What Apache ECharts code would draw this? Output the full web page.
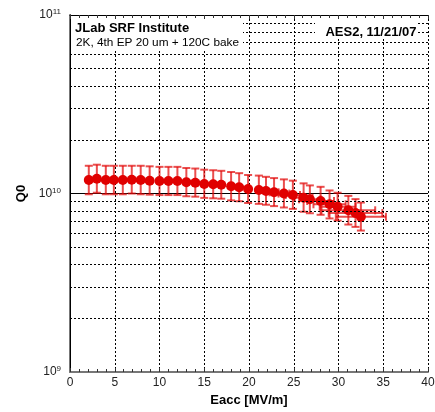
<!DOCTYPE html>
<html>
<head>
<meta charset="utf-8">
<script src="https://cdn.jsdelivr.net/npm/echarts@6/dist/echarts.min.js"></script>
<style>
html,body{margin:0;padding:0;background:#fff;}
#c{width:435px;height:412px;}
</style>
</head>
<body>
<div id="c"></div>
<script>
// ---- data ----
const eacc = [2.1,3.0,4.0,4.9,5.9,6.9,7.9,8.9,10.0,11.0,12.0,13.0,14.0,15.0,16.0,16.9,18.0,18.9,19.9,21.1,21.9,22.8,23.9,24.9,26.1,26.8,28.0,29.0,29.9,31.1,31.9,32.5];
const q0 = [1.19e10,1.21e10,1.19e10,1.19e10,1.19e10,1.195e10,1.19e10,1.18e10,1.175e10,1.175e10,1.175e10,1.155e10,1.15e10,1.13e10,1.126e10,1.12e10,1.097e10,1.083e10,1.06e10,1.046e10,1.033e10,1.016e10,0.999e10,0.981e10,0.947e10,0.928e10,0.908e10,0.87e10,0.844e10,0.805e10,0.778e10,0.741e10];
const q0Hi = [1.43e10,1.45e10,1.43e10,1.43e10,1.43e10,1.43e10,1.43e10,1.42e10,1.41e10,1.41e10,1.41e10,1.39e10,1.38e10,1.36e10,1.35e10,1.34e10,1.32e10,1.30e10,1.27e10,1.26e10,1.24e10,1.22e10,1.20e10,1.18e10,1.14e10,1.11e10,1.09e10,1.04e10,1.01e10,0.97e10,0.93e10,0.89e10];
const q0Lo = [0.99e10,1.01e10,0.99e10,0.99e10,0.99e10,1.00e10,0.99e10,0.985e10,0.98e10,0.98e10,0.98e10,0.965e10,0.96e10,0.945e10,0.94e10,0.935e10,0.915e10,0.905e10,0.885e10,0.875e10,0.865e10,0.85e10,0.835e10,0.82e10,0.79e10,0.775e10,0.76e10,0.725e10,0.705e10,0.67e10,0.65e10,0.62e10];
const eaccErr = [0,0,0,0,0,0,0,0,0,0,0,0,0,0,0,0,0,0,0,0,0,0.5,0.6,0.8,1.0,1.2,1.5,1.8,2.0,3.0,3.0,2.8];
const xTicks = [0,5,10,15,20,25,30,35,40];
const yDecades = [1e9,1e10,1e11];
const yMinorGrid = [2e9,3e9,4e9,5e9,6e9,7e9,8e9,9e9,2e10,3e10,4e10,5e10,6e10,7e10,8e10,9e10];
const titleText = 'JLab SRF Institute';
const subText = '2K, 4th EP 20 um + 120C bake';
const tagText = 'AES2, 11/21/07';
const xName = 'Eacc [MV/m]';
const yName = 'Q0';

const FONT = '"Liberation Sans", Arial, sans-serif';
const errData = eacc.map((x,i)=>[x, q0[i], q0Lo[i], q0Hi[i], x-eaccErr[i], x+eaccErr[i]]);
const ptData = eacc.map((x,i)=>[x, q0[i]]);

function renderErr(params, api){
  const x = api.value(0), y = api.value(1), lo = api.value(2), hi = api.value(3), xl = api.value(4), xh = api.value(5);
  const pt = api.coord([x, hi]), pb = api.coord([x, lo]);
  const cap = 4;
  const st = {stroke:'rgba(226,10,10,0.72)', lineWidth:2};
  const ch = [
    {type:'line', shape:{x1:pt[0],y1:pt[1],x2:pb[0],y2:pb[1]}, style:st},
    {type:'line', shape:{x1:pt[0]-cap,y1:pt[1],x2:pt[0]+cap,y2:pt[1]}, style:st},
    {type:'line', shape:{x1:pb[0]-cap,y1:pb[1],x2:pb[0]+cap,y2:pb[1]}, style:st}
  ];
  if (xh > xl) {
    const pl = api.coord([xl, y]), pr = api.coord([xh, y]);
    ch.push({type:'line', shape:{x1:pl[0],y1:pl[1],x2:pr[0],y2:pr[1]}, style:st});
    ch.push({type:'line', shape:{x1:pl[0],y1:pl[1]-cap,x2:pl[0],y2:pl[1]+cap}, style:st});
    ch.push({type:'line', shape:{x1:pr[0],y1:pr[1]-cap,x2:pr[0],y2:pr[1]+cap}, style:st});
  }
  return {type:'group', children:ch};
}

const chart = echarts.init(document.getElementById('c'), null, {renderer:'canvas'});
const gridDot = {color:'#000', width:1, type:[2,2]};
chart.setOption({
  animation:false,
  backgroundColor:'#fff',
  grid:{left:70, right:7, top:15, bottom:40, containLabel:false, outerBoundsMode:'none'},
  xAxis:[{
    type:'value', min:xTicks[0], max:xTicks[xTicks.length-1], interval:5, position:'bottom',
    name:xName, nameLocation:'middle', nameGap:15,
    nameTextStyle:{fontFamily:FONT, fontWeight:'bold', fontSize:13, color:'#000'},
    axisLine:{show:true, lineStyle:{color:'#777', width:2}},
    axisTick:{show:true, inside:true, length:4, lineStyle:{color:'#333'}},
    minorTick:{show:true, splitNumber:5, length:3, lineStyle:{color:'#333'}},
    splitLine:{show:true, lineStyle:gridDot},
    axisLabel:{margin:5, fontFamily:FONT, fontSize:12, color:'#222'}
  },{
    type:'value', min:xTicks[0], max:xTicks[xTicks.length-1], interval:5, position:'top',
    axisLine:{show:true, lineStyle:{color:'#000', width:1}},
    axisTick:{show:true, inside:true, length:4, lineStyle:{color:'#333'}},
    minorTick:{show:true, splitNumber:5, length:3, lineStyle:{color:'#333'}},
    splitLine:{show:false}, axisLabel:{show:false}
  }],
  yAxis:[{
    type:'log', logBase:10, min:yDecades[0], max:yDecades[yDecades.length-1], position:'left',
    name:yName, nameLocation:'middle', nameGap:42, nameRotate:90,
    nameTextStyle:{fontFamily:FONT, fontWeight:'bold', fontSize:13, color:'#000'},
    axisLine:{show:true, lineStyle:{color:'#777', width:2}},
    axisTick:{show:false},
    splitLine:{show:true, lineStyle:{color:'#000', width:1, type:'solid'}},
    axisLabel:{margin:9, fontFamily:FONT, color:'#222',
      formatter:function(v){ return '{b|10}{s|' + Math.round(Math.log10(v)) + '}'; },
      rich:{b:{fontSize:12, fontFamily:FONT, color:'#222'}, s:{fontSize:8, fontFamily:FONT, color:'#222', verticalAlign:'top', padding:[0,0,6,0]}}
    }
  },{
    type:'log', logBase:10, min:yDecades[0], max:yDecades[yDecades.length-1], position:'right',
    axisLine:{show:true, lineStyle:{color:'#000', width:1}},
    axisTick:{show:false}, splitLine:{show:false}, axisLabel:{show:false}
  }],
  series:[{
    type:'custom', renderItem:renderErr, data:errData, encode:{x:0, y:1}, z:3,
    markLine:{silent:true, symbol:'none', label:{show:false}, lineStyle:gridDot,
      data: yMinorGrid.map(v=>({yAxis:v}))}
  },{
    type:'scatter', data:ptData, symbol:'circle', symbolSize:10, z:4,
    itemStyle:{color:'#e00000', opacity:1}
  }],
  graphic:[
    {type:'rect', z:100, shape:{x:71, y:19, width:172, height:30}, style:{fill:'#fff'}},
    {type:'text', z:101, x:75, y:28.5, style:{text:titleText, fontFamily:FONT, fontWeight:'bold', fontSize:13, fill:'#000', verticalAlign:'middle', textAlign:'left'}},
    {type:'text', z:101, x:76, y:42.5, style:{text:subText, fontFamily:FONT, fontSize:11.8, fill:'#000', verticalAlign:'middle', textAlign:'left'}},
    {type:'rect', z:100, shape:{x:315, y:19, width:102, height:19}, style:{fill:'#fff'}},
    {type:'text', z:101, x:416.5, y:32, style:{text:tagText, fontFamily:FONT, fontWeight:'bold', fontSize:13, fill:'#000', verticalAlign:'middle', textAlign:'right'}}
  ]
});
</script>
</body>
</html>
